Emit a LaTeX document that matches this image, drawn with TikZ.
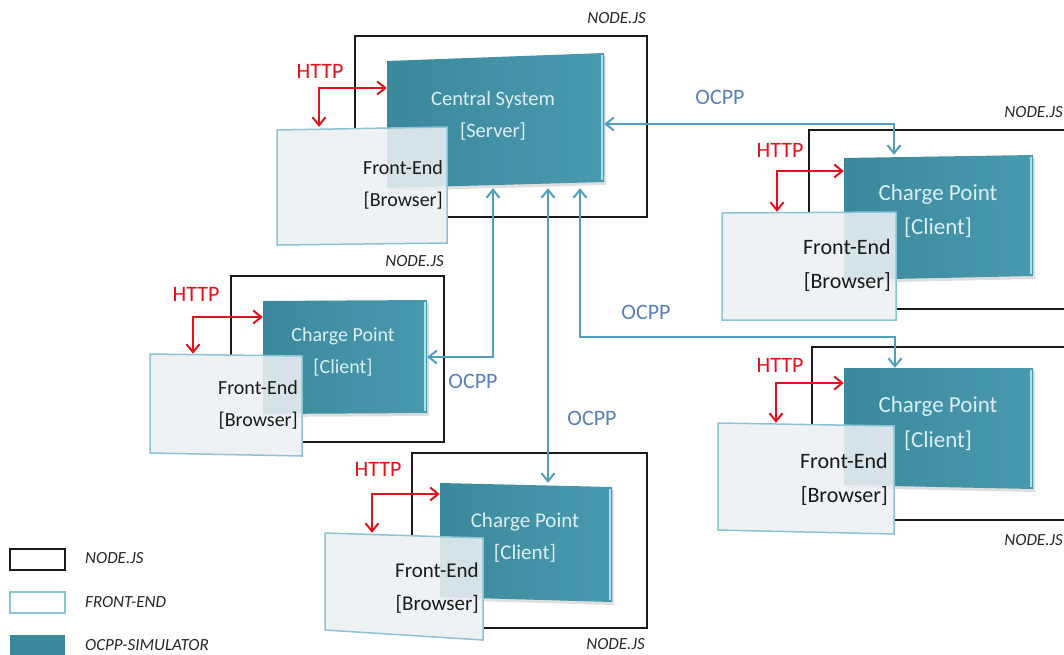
\documentclass[tikz,border=0pt]{standalone}
\usepackage{fontspec}
\setmainfont{Carlito}
\usetikzlibrary{arrows.meta,fit,calc}
\definecolor{tealA}{HTML}{3A889C}
\definecolor{tealB}{HTML}{4A9AAF}
\definecolor{tealtext}{HTML}{DCEFF4}
\definecolor{hilite}{HTML}{A6E4F3}
\definecolor{fefill}{HTML}{EFF2F4}
\definecolor{feline}{HTML}{8CC3D5}
\definecolor{ocppline}{HTML}{4E9FBC}
\definecolor{ocpptext}{HTML}{5B80B6}
\definecolor{httpred}{HTML}{E3121A}
\definecolor{nodeline}{HTML}{1A1A1A}
\tikzset{
  nodebox/.style={draw=nodeline, line width=1.2pt, inner sep=0pt},
  nodelabel/.style={font=\fontsize{17}{20}\selectfont\itshape, text=black!85, anchor=east, inner sep=0pt},
  legendtext/.style={font=\fontsize{17}{20}\selectfont\itshape, text=black!85, anchor=west, inner sep=0pt},
  simtext/.style 2 args={font=\fontsize{#1}{#2}\selectfont, text=tealtext, align=center, inner sep=0pt},
  fetext/.style 2 args={font=\fontsize{#1}{#2}\selectfont, text=black!90, align=right, anchor=east, inner sep=0pt},
  httparrow/.style={draw=httpred, line width=2pt, {Straight Barb[length=8pt,width=13pt]}-{Straight Barb[length=8pt,width=13pt]}},
  ocpparrow/.style={draw=ocppline, line width=2pt, {Straight Barb[length=8pt,width=13pt]}-{Straight Barb[length=8pt,width=13pt]}},
  httplabel/.style={font=\fontsize{22}{24}\selectfont, text=httpred, inner sep=0pt},
  ocpplabel/.style={font=\fontsize{22}{24}\selectfont, text=ocpptext, inner sep=0pt},
}
% name, xl, ytl, ybl, xr, ytr, ybr
\newcommand\simbox[7]{%
  \fill[black,opacity=0.13] (#2+2,#3+3) -- (#5+2,#6+3) -- (#5+2,#7+3) -- (#2+2,#4+3) -- cycle;
  \shade[left color=tealA,right color=tealB] (#2,#3) -- (#5,#6) -- (#5,#7) -- (#2,#4) -- cycle;
  \draw[hilite, line width=1.5pt] (#5-2,#6+2) -- (#5-2,#7-2);
  \node[fit={(#2,#3)(#5,#6)(#5,#7)(#2,#4)}, inner sep=0pt] (#1) {};
}
% opaque base under the simulator (hides container lines)
\newcommand\febase[6]{%
  \fill[fefill] (#1,#2) -- (#4,#5) -- (#4,#6) -- (#1,#3) -- cycle;
}
\newcommand\febox[7]{%
  \filldraw[fill=fefill, fill opacity=0.86, draw=feline, line width=1.5pt] (#2,#3) -- (#5,#6) -- (#5,#7) -- (#2,#4) -- cycle;
  \node[fit={(#2,#3)(#5,#6)(#5,#7)(#2,#4)}, inner sep=0pt] (#1) {};
}
\begin{document}
\begin{tikzpicture}[x=1pt,y=-1pt]
\useasboundingbox (0,0) rectangle (1064,654);
\fill[white] (0,0) rectangle (1064,654);

% NODE.JS containers
\node[nodebox, fit={(355,36)(647,217)}] (n0) {};
\node[nodebox, fit={(231,276)(444,442)}] (n1) {};
\node[nodebox, fit={(412,453)(647,628)}] (n2) {};
\node[nodebox, fit={(809,130)(1075,309)}] (n3) {};
\node[nodebox, fit={(812,347)(1075,520)}] (n4) {};
\node[nodelabel] (l0) at (646,18) {NODE.JS};
\node[nodelabel] (l1) at (444,261) {NODE.JS};
\node[nodelabel] (l2) at (645,644) {NODE.JS};
\node[nodelabel] (l3) at (1063,112) {NODE.JS};
\node[nodelabel] (l4) at (1063,540) {NODE.JS};

% opaque bases of the front-ends
\febase{277}{130}{245}{447}{127}{243}
\febase{150}{354}{453}{302}{356}{456}
\febase{325}{533}{630}{483}{538}{640}
\febase{722}{213}{320}{896}{212}{320}
\febase{718}{423}{530}{894}{426}{534}

% OCPP simulators
\simbox{cs0}{387}{61}{188}{604}{53}{182}
\simbox{cp1}{263}{301}{414}{427}{300}{413}
\simbox{cp2}{440}{483}{597}{612}{487}{602}
\simbox{cp3}{844}{158}{280}{1033}{155}{276}
\simbox{cp4}{844}{368}{485}{1033}{368}{489}

\node[simtext={20.5}{32}] (t0) at (493,116) {Central System\\{[Server]}};
\node[simtext={20}{32}] (t1) at (343,352) {Charge Point\\{[Client]}};
\node[simtext={21}{32}] (t2) at (525,538) {Charge Point\\{[Client]}};
\node[simtext={23}{34}] (t3) at (938,211) {Charge Point\\{[Client]}};
\node[simtext={23}{35}] (t4) at (938,424) {Charge Point\\{[Client]}};

% Front-ends
\febox{fe0}{277}{130}{245}{447}{127}{243}
\febox{fe1}{150}{354}{453}{302}{356}{456}
\febox{fe2}{325}{533}{630}{483}{538}{640}
\febox{fe3}{722}{213}{320}{896}{212}{320}
\febox{fe4}{718}{423}{530}{894}{426}{534}

\node[fetext={20}{32}] (f0) at (443,185) {Front-End\\{[Browser]}};
\node[fetext={20}{32}] (f1) at (298,405) {Front-End\\{[Browser]}};
\node[fetext={21}{33}] (f2) at (479,588) {Front-End\\{[Browser]}};
\node[fetext={22}{34}] (f3) at (891,265) {Front-End\\{[Browser]}};
\node[fetext={22}{34}] (f4) at (888,479) {Front-End\\{[Browser]}};

% HTTP connectors
\coordinate (b0) at (319,88);
\coordinate (b1) at (193,317);
\coordinate (b2) at (372,494);
\coordinate (b3) at (777,171);
\coordinate (b4) at (776,383);
\draw[httparrow] (fe0.north -| b0) |- (cs0.west |- b0);
\draw[httparrow] (fe1.north -| b1) |- (cp1.west |- b1);
\draw[httparrow] (fe2.north -| b2) |- (cp2.west |- b2);
\draw[httparrow] (fe3.north -| b3) |- (cp3.west |- b3);
\draw[httparrow] (fe4.north -| b4) |- (cp4.west |- b4);
\node[httplabel] (h0) at (320,71) {HTTP};
\node[httplabel] (h1) at (196,294) {HTTP};
\node[httplabel] (h2) at (378,469) {HTTP};
\node[httplabel] (h3) at (780,150) {HTTP};
\node[httplabel] (h4) at (780,365) {HTTP};

% OCPP connectors
\coordinate (oa) at (894,124);
\coordinate (obx) at (580,337);
\coordinate (ob) at (895,337);
\coordinate (oc) at (548,300);
\coordinate (od) at (493,357);
\draw[ocpparrow] (cs0.east |- oa) -| (cp3.north -| oa);
\draw[ocpparrow] (cs0.south -| obx) -- (obx) -- (ob) -- (cp4.north -| ob);
\draw[ocpparrow] (cs0.south -| oc) -- (cp2.north -| oc);
\draw[ocpparrow] (cs0.south -| od) |- (cp1.east |- od);
\node[ocpplabel] (oA) at (720,97) {OCPP};
\node[ocpplabel] (oB) at (646,312) {OCPP};
\node[ocpplabel] (oC) at (592,418) {OCPP};
\node[ocpplabel] (oD) at (473,381) {OCPP};

% Legend
\node[nodebox, fit={(10,549)(65,570)}] (lg1) {};
\node[draw=feline, line width=1.3pt, inner sep=0pt, fit={(10,592)(65,613)}] (lg2) {};
\node[fill=tealA, inner sep=0pt, fit={(10,635)(65,660)}] (lg3) {};
\node[legendtext] (lt1) at (85,558) {NODE.JS};
\node[legendtext] (lt2) at (85,602) {FRONT-END};
\node[legendtext] (lt3) at (85,645) {OCPP-SIMULATOR};
\end{tikzpicture}
\end{document}
